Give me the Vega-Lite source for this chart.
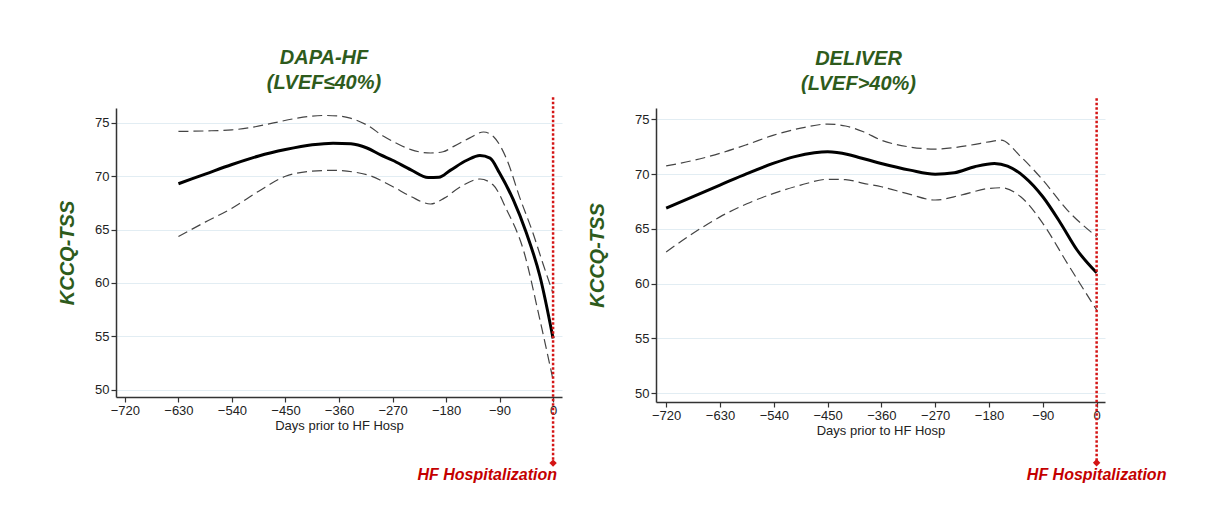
{
  "$schema": "https://vega.github.io/schema/vega-lite/v6.json",
  "background": "white",
  "padding": {"left": 57, "top": 48, "right": 0, "bottom": 0},
  "spacing": 25,
  "datasets": {
    "dapa": [
      {"series": "Estimate", "day": -630, "kccq": 69.3},
      {"series": "Estimate", "day": -585, "kccq": 70.2},
      {"series": "Estimate", "day": -540, "kccq": 71.1},
      {"series": "Estimate", "day": -495, "kccq": 71.9},
      {"series": "Estimate", "day": -450, "kccq": 72.5},
      {"series": "Estimate", "day": -405, "kccq": 72.95},
      {"series": "Estimate", "day": -370, "kccq": 73.1},
      {"series": "Estimate", "day": -340, "kccq": 73.05},
      {"series": "Estimate", "day": -313, "kccq": 72.65},
      {"series": "Estimate", "day": -290, "kccq": 72.0},
      {"series": "Estimate", "day": -270, "kccq": 71.5},
      {"series": "Estimate", "day": -239, "kccq": 70.6},
      {"series": "Estimate", "day": -210, "kccq": 69.88},
      {"series": "Estimate", "day": -192, "kccq": 69.9},
      {"series": "Estimate", "day": -173, "kccq": 70.55},
      {"series": "Estimate", "day": -145, "kccq": 71.5},
      {"series": "Estimate", "day": -123, "kccq": 71.95},
      {"series": "Estimate", "day": -106, "kccq": 71.7},
      {"series": "Estimate", "day": -90, "kccq": 70.3},
      {"series": "Estimate", "day": -67, "kccq": 67.8},
      {"series": "Estimate", "day": -45, "kccq": 64.7},
      {"series": "Estimate", "day": -22, "kccq": 60.6},
      {"series": "Estimate", "day": 0, "kccq": 54.8},
      {"series": "Upper", "day": -630, "kccq": 74.2},
      {"series": "Upper", "day": -585, "kccq": 74.25},
      {"series": "Upper", "day": -540, "kccq": 74.35},
      {"series": "Upper", "day": -505, "kccq": 74.6},
      {"series": "Upper", "day": -470, "kccq": 75.0},
      {"series": "Upper", "day": -430, "kccq": 75.45},
      {"series": "Upper", "day": -386, "kccq": 75.7},
      {"series": "Upper", "day": -360, "kccq": 75.65},
      {"series": "Upper", "day": -341, "kccq": 75.45},
      {"series": "Upper", "day": -313, "kccq": 74.8},
      {"series": "Upper", "day": -285, "kccq": 73.75},
      {"series": "Upper", "day": -260, "kccq": 73.0},
      {"series": "Upper", "day": -239, "kccq": 72.5},
      {"series": "Upper", "day": -206, "kccq": 72.18},
      {"series": "Upper", "day": -185, "kccq": 72.3},
      {"series": "Upper", "day": -167, "kccq": 72.8},
      {"series": "Upper", "day": -140, "kccq": 73.6},
      {"series": "Upper", "day": -117, "kccq": 74.15},
      {"series": "Upper", "day": -100, "kccq": 73.7},
      {"series": "Upper", "day": -78, "kccq": 71.6},
      {"series": "Upper", "day": -56, "kccq": 68.0},
      {"series": "Upper", "day": -34, "kccq": 64.7},
      {"series": "Upper", "day": -17, "kccq": 61.8},
      {"series": "Upper", "day": 0, "kccq": 59.0},
      {"series": "Lower", "day": -630, "kccq": 64.35},
      {"series": "Lower", "day": -585, "kccq": 65.7},
      {"series": "Lower", "day": -540, "kccq": 67.0},
      {"series": "Lower", "day": -495, "kccq": 68.6},
      {"series": "Lower", "day": -450, "kccq": 70.0},
      {"series": "Lower", "day": -410, "kccq": 70.45},
      {"series": "Lower", "day": -370, "kccq": 70.55},
      {"series": "Lower", "day": -313, "kccq": 70.14},
      {"series": "Lower", "day": -270, "kccq": 69.04},
      {"series": "Lower", "day": -239, "kccq": 68.1},
      {"series": "Lower", "day": -206, "kccq": 67.4},
      {"series": "Lower", "day": -183, "kccq": 67.95},
      {"series": "Lower", "day": -155, "kccq": 69.04},
      {"series": "Lower", "day": -123, "kccq": 69.74},
      {"series": "Lower", "day": -101, "kccq": 69.2},
      {"series": "Lower", "day": -78, "kccq": 66.85},
      {"series": "Lower", "day": -50, "kccq": 63.1},
      {"series": "Lower", "day": -22, "kccq": 56.5},
      {"series": "Lower", "day": 0, "kccq": 50.9}
    ],
    "deliver": [
      {"series": "Estimate", "day": -720, "kccq": 66.9},
      {"series": "Estimate", "day": -675, "kccq": 67.95},
      {"series": "Estimate", "day": -630, "kccq": 69.0},
      {"series": "Estimate", "day": -585, "kccq": 70.05},
      {"series": "Estimate", "day": -540, "kccq": 71.0},
      {"series": "Estimate", "day": -505, "kccq": 71.6},
      {"series": "Estimate", "day": -472, "kccq": 71.95},
      {"series": "Estimate", "day": -450, "kccq": 72.04},
      {"series": "Estimate", "day": -416, "kccq": 71.8},
      {"series": "Estimate", "day": -396, "kccq": 71.5},
      {"series": "Estimate", "day": -362, "kccq": 71.0},
      {"series": "Estimate", "day": -312, "kccq": 70.37},
      {"series": "Estimate", "day": -270, "kccq": 70.0},
      {"series": "Estimate", "day": -238, "kccq": 70.13},
      {"series": "Estimate", "day": -204, "kccq": 70.68},
      {"series": "Estimate", "day": -171, "kccq": 70.98},
      {"series": "Estimate", "day": -149, "kccq": 70.74},
      {"series": "Estimate", "day": -121, "kccq": 69.76},
      {"series": "Estimate", "day": -90, "kccq": 67.94},
      {"series": "Estimate", "day": -60, "kccq": 65.5},
      {"series": "Estimate", "day": -33, "kccq": 63.1},
      {"series": "Estimate", "day": 0, "kccq": 61.0},
      {"series": "Upper", "day": -720, "kccq": 70.75},
      {"series": "Upper", "day": -675, "kccq": 71.25},
      {"series": "Upper", "day": -630, "kccq": 71.9},
      {"series": "Upper", "day": -585, "kccq": 72.7},
      {"series": "Upper", "day": -540, "kccq": 73.57},
      {"series": "Upper", "day": -495, "kccq": 74.2},
      {"series": "Upper", "day": -450, "kccq": 74.57},
      {"series": "Upper", "day": -420, "kccq": 74.4},
      {"series": "Upper", "day": -390, "kccq": 73.87},
      {"series": "Upper", "day": -360, "kccq": 73.1},
      {"series": "Upper", "day": -315, "kccq": 72.5},
      {"series": "Upper", "day": -270, "kccq": 72.29},
      {"series": "Upper", "day": -210, "kccq": 72.66},
      {"series": "Upper", "day": -175, "kccq": 73.0},
      {"series": "Upper", "day": -160, "kccq": 73.1},
      {"series": "Upper", "day": -127, "kccq": 71.6},
      {"series": "Upper", "day": -90, "kccq": 69.46},
      {"series": "Upper", "day": -49, "kccq": 66.72},
      {"series": "Upper", "day": 0, "kccq": 64.3},
      {"series": "Lower", "day": -720, "kccq": 62.9},
      {"series": "Lower", "day": -675, "kccq": 64.6},
      {"series": "Lower", "day": -630, "kccq": 66.1},
      {"series": "Lower", "day": -585, "kccq": 67.3},
      {"series": "Lower", "day": -540, "kccq": 68.25},
      {"series": "Lower", "day": -495, "kccq": 69.0},
      {"series": "Lower", "day": -450, "kccq": 69.53},
      {"series": "Lower", "day": -420, "kccq": 69.5},
      {"series": "Lower", "day": -390, "kccq": 69.16},
      {"series": "Lower", "day": -360, "kccq": 68.85},
      {"series": "Lower", "day": -315, "kccq": 68.2},
      {"series": "Lower", "day": -270, "kccq": 67.64},
      {"series": "Lower", "day": -226, "kccq": 68.1},
      {"series": "Lower", "day": -180, "kccq": 68.7},
      {"series": "Lower", "day": -160, "kccq": 68.76},
      {"series": "Lower", "day": -127, "kccq": 67.94},
      {"series": "Lower", "day": -90, "kccq": 65.51},
      {"series": "Lower", "day": -49, "kccq": 61.86},
      {"series": "Lower", "day": 0, "kccq": 57.6}
    ],
    "event": [
      {"event": "HF Hospitalization", "day": 0}
    ]
  },
  "hconcat": [
    {
      "width": 446,
      "height": 289,
      "title": {
        "text": ["DAPA-HF", "(LVEF≤40%)"],
        "font": "Liberation Sans",
        "fontSize": 20,
        "fontStyle": "italic",
        "fontWeight": "bold",
        "color": "#2e5b1c",
        "anchor": "middle",
        "dx": -15,
        "lineHeight": 25,
        "offset": 3
      },
      "layer": [
        {
          "data": {"name": "dapa"},
          "transform": [{"filter": "datum.series === 'Estimate'"}],
          "mark": {"type": "line", "interpolate": "monotone", "color": "#000000", "strokeWidth": 3},
          "encoding": {
            "x": {"field": "day", "type": "quantitative", "scale": {"domain": [-735, 15], "nice": false, "zero": false},
              "axis": {"values": [-720, -630, -540, -450, -360, -270, -180, -90, 0], "grid": false, "title": "Days prior to HF Hosp", "titleFontSize": 13, "titleFontWeight": "normal", "titleColor": "#222222", "titlePadding": 2, "labelPadding": 2, "labelFlush": false}},
            "y": {"field": "kccq", "type": "quantitative", "scale": {"domain": [49.3, 76.4], "nice": false, "zero": false},
              "axis": {"values": [50, 55, 60, 65, 70, 75], "grid": true, "title": "KCCQ-TSS", "titleFontSize": 20, "titleFontStyle": "italic", "titleFontWeight": "bold", "titleColor": "#2e5b1c", "titlePadding": 17}}
          }
        },
        {
          "data": {"name": "dapa"},
          "transform": [{"filter": "datum.series !== 'Estimate'"}],
          "mark": {"type": "line", "interpolate": "monotone", "color": "#444444", "strokeWidth": 1.2, "strokeDash": [10, 5]},
          "encoding": {
            "x": {"field": "day", "type": "quantitative", "scale": {"domain": [-735, 15], "nice": false, "zero": false}},
            "y": {"field": "kccq", "type": "quantitative", "scale": {"domain": [49.3, 76.4], "nice": false, "zero": false}},
            "detail": {"field": "series"}
          }
        },
        {
          "data": {"name": "event"},
          "mark": {"type": "rule", "color": "#d41414", "strokeWidth": 2.5, "strokeDash": [2.5, 2]},
          "encoding": {
            "x": {"field": "day", "type": "quantitative"},
            "y": {"datum": 77.4},
            "y2": {"datum": 43.1}
          }
        },
        {
          "data": {"name": "event"},
          "mark": {"type": "point", "shape": "diamond", "filled": true, "color": "#d41414", "size": 55, "opacity": 1},
          "encoding": {
            "x": {"field": "day", "type": "quantitative"},
            "y": {"datum": 43.1}
          }
        },
        {
          "data": {"name": "event"},
          "mark": {"type": "text", "align": "right", "baseline": "middle", "dx": 4, "font": "Liberation Sans", "fontSize": 16, "fontStyle": "italic", "fontWeight": "bold", "color": "#c40000"},
          "encoding": {
            "x": {"field": "day", "type": "quantitative"},
            "y": {"datum": 41.95},
            "text": {"field": "event"}
          }
        }
      ]
    },
    {
      "width": 449,
      "height": 294,
      "title": {
        "text": ["DELIVER", "(LVEF>40%)"],
        "font": "Liberation Sans",
        "fontSize": 20,
        "fontStyle": "italic",
        "fontWeight": "bold",
        "color": "#2e5b1c",
        "anchor": "middle",
        "dx": -22,
        "lineHeight": 25,
        "offset": 3
      },
      "layer": [
        {
          "data": {"name": "deliver"},
          "transform": [{"filter": "datum.series === 'Estimate'"}],
          "mark": {"type": "line", "interpolate": "monotone", "color": "#000000", "strokeWidth": 3},
          "encoding": {
            "x": {"field": "day", "type": "quantitative", "scale": {"domain": [-737, 14], "nice": false, "zero": false},
              "axis": {"values": [-720, -630, -540, -450, -360, -270, -180, -90, 0], "grid": false, "title": "Days prior to HF Hosp", "titleFontSize": 13, "titleFontWeight": "normal", "titleColor": "#222222", "titlePadding": 2, "labelPadding": 2, "labelFlush": false}},
            "y": {"field": "kccq", "type": "quantitative", "scale": {"domain": [49.2, 76.04], "nice": false, "zero": false},
              "axis": {"values": [50, 55, 60, 65, 70, 75], "grid": true, "title": "KCCQ-TSS", "titleFontSize": 20, "titleFontStyle": "italic", "titleFontWeight": "bold", "titleColor": "#2e5b1c", "titlePadding": 27}}
          }
        },
        {
          "data": {"name": "deliver"},
          "transform": [{"filter": "datum.series !== 'Estimate'"}],
          "mark": {"type": "line", "interpolate": "monotone", "color": "#444444", "strokeWidth": 1.2, "strokeDash": [10, 5]},
          "encoding": {
            "x": {"field": "day", "type": "quantitative", "scale": {"domain": [-737, 14], "nice": false, "zero": false}},
            "y": {"field": "kccq", "type": "quantitative", "scale": {"domain": [49.2, 76.04], "nice": false, "zero": false}},
            "detail": {"field": "series"}
          }
        },
        {
          "data": {"name": "event"},
          "mark": {"type": "rule", "color": "#d41414", "strokeWidth": 2.5, "strokeDash": [2.5, 2]},
          "encoding": {
            "x": {"field": "day", "type": "quantitative"},
            "y": {"datum": 76.94},
            "y2": {"datum": 43.65}
          }
        },
        {
          "data": {"name": "event"},
          "mark": {"type": "point", "shape": "diamond", "filled": true, "color": "#d41414", "size": 55, "opacity": 1},
          "encoding": {
            "x": {"field": "day", "type": "quantitative"},
            "y": {"datum": 43.65}
          }
        },
        {
          "data": {"name": "event"},
          "mark": {"type": "text", "align": "center", "baseline": "middle", "font": "Liberation Sans", "fontSize": 16, "fontStyle": "italic", "fontWeight": "bold", "color": "#c40000"},
          "encoding": {
            "x": {"field": "day", "type": "quantitative"},
            "y": {"datum": 42.55},
            "text": {"field": "event"}
          }
        }
      ]
    }
  ],
  "config": {
    "font": "Liberation Sans",
    "view": {"stroke": null},
    "axis": {
      "labelFont": "Liberation Sans",
      "labelFontSize": 13,
      "labelColor": "#222222",
      "titleFont": "Liberation Sans",
      "domainColor": "#333333",
      "domainWidth": 1.5,
      "tickColor": "#333333",
      "tickSize": 5,
      "tickWidth": 1.2,
      "gridColor": "#e2edf3",
      "gridWidth": 1
    }
  }
}
